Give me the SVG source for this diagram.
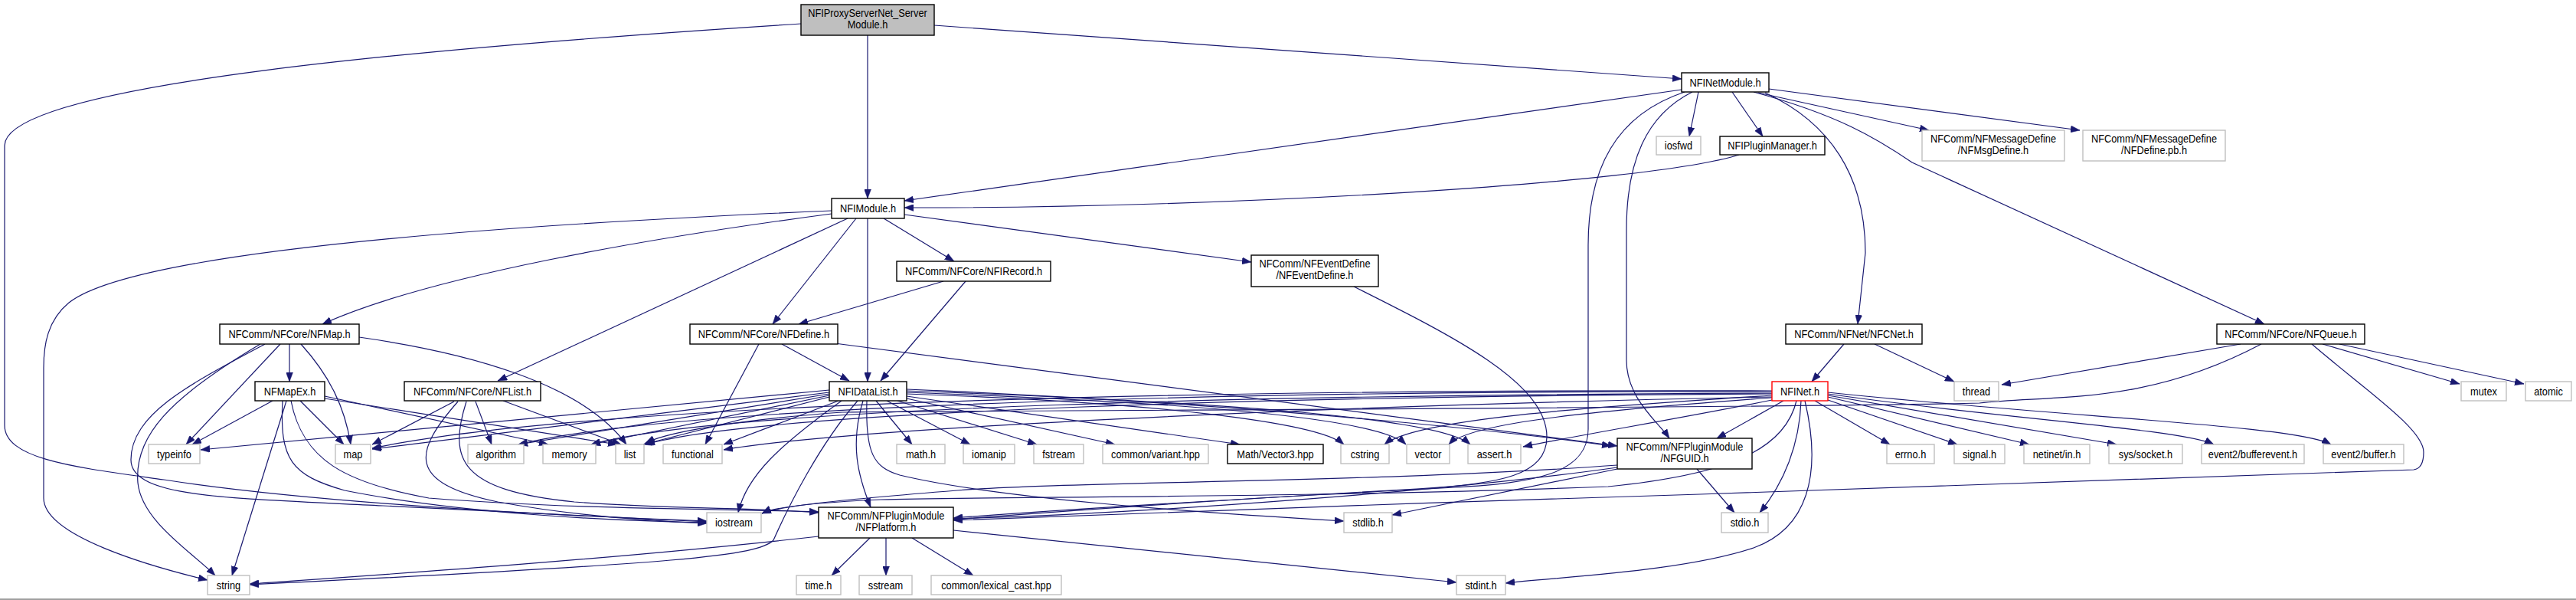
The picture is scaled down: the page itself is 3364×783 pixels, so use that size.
<svg xmlns="http://www.w3.org/2000/svg" width="3364" height="783" viewBox="0 0 3364 783">
<style>
text{font-family:"Liberation Sans",Arial,sans-serif;font-size:15px;text-anchor:middle;fill:#000}
.n rect{fill:#fff;stroke:#000;stroke-width:1.4}
.g rect{fill:#fff;stroke:#bfbfbf;stroke-width:1.4}
.r rect{fill:#bfbfbf;stroke:#000;stroke-width:1.4}
.x rect{fill:#fff;stroke:#ff0000;stroke-width:1.4}
#edges path{fill:none;stroke:#191970;stroke-width:1.2;marker-end:url(#a)}
</style>
<defs>
<marker id="a" markerUnits="userSpaceOnUse" markerWidth="12" markerHeight="9" refX="12" refY="4.5" orient="auto" viewBox="0 0 12 9"><path d="M0,0 L12,4.5 L0,9 z" fill="#191970" stroke="#191970" stroke-width="0.5"/></marker>
</defs>
<rect x="0" y="0" width="3364" height="783" fill="#fff"/>
<rect x="0" y="781" width="3364" height="2" fill="#a0a0a0"/>
<g id="edges">
<path d="M1133,46 L1133,259"/>
<path d="M1220,33 L2196,103"/>
<path d="M1046,31 C560,62 6,110 6,190 L6,555 C6,600 100,610 214,626 C400,655 700,672 923,680"/>
<path d="M2196,117 L1181,262"/>
<path d="M2271,202 C2150,240 1600,272 1181,271"/>
<path d="M2218,120 L2206,178"/>
<path d="M2262,120 L2302,178"/>
<path d="M2296,121 L2519,170"/>
<path d="M2310,116 L2716,170"/>
<path d="M2290,120 C2400,150 2450,180 2497,212 L2957,423"/>
<path d="M2305,121 C2390,160 2436,230 2436,330 L2426,423"/>
<path d="M2210,120 C2150,150 2124,210 2124,300 L2124,470 C2124,520 2165,550 2180,572"/>
<path d="M2200,120 C2110,150 2074,220 2074,320 L2074,560 C2074,620 2000,630 1900,636 C1600,652 1400,664 1245,676"/>
<path d="M1768,374 C1900,440 2020,500 2020,570 C2020,620 1960,632 1850,638 C1600,652 1400,666 1245,678"/>
<path d="M1086,275 C500,300 160,340 90,395 C62,418 57,450 57,480 L57,650 C57,700 200,740 271,757"/>
<path d="M1086,279 C850,310 560,360 421,423"/>
<path d="M1107,285 L650,497"/>
<path d="M1118,285 L1009,423"/>
<path d="M1133,285 L1133,498"/>
<path d="M1154,285 L1246,341"/>
<path d="M1181,280 L1634,342"/>
<path d="M1232,367 L1043,423"/>
<path d="M1261,367 L1150,497"/>
<path d="M991,449 L921,580"/>
<path d="M1021,449 L1109,497"/>
<path d="M1090,448 L2112,582"/>
<path d="M378,449 L378,498"/>
<path d="M366,449 L243,580"/>
<path d="M393,449 C430,490 450,530 458,580"/>
<path d="M469,440 C610,460 760,500 818,580"/>
<path d="M346,449 C250,500 171,540 171,600 C171,650 300,650 500,660 C700,670 850,678 923,681"/>
<path d="M340,449 C220,520 175,570 180,630 C185,680 250,720 281,751"/>
<path d="M356,523 L251,580"/>
<path d="M392,523 L449,580"/>
<path d="M374,523 L303,751"/>
<path d="M369,523 C365,600 380,620 450,640 C600,670 800,680 923,682"/>
<path d="M380,523 C395,600 450,630 560,650 C750,665 950,664 1069,668"/>
<path d="M424,517 L716,580"/>
<path d="M424,520 L806,580"/>
<path d="M593,524 L486,580"/>
<path d="M621,524 L642,580"/>
<path d="M657,523 L811,580"/>
<path d="M598,524 C540,590 530,630 650,655 C760,675 860,680 923,683"/>
<path d="M609,524 C585,600 600,640 750,655 C880,665 980,662 1069,669"/>
<path d="M1083,509 L262,587"/>
<path d="M1083,512 L486,586"/>
<path d="M1083,514 L677,580"/>
<path d="M1083,516 L772,580"/>
<path d="M1083,518 L840,580"/>
<path d="M1095,523 L945,580"/>
<path d="M1099,523 C1020,580 975,620 964,669"/>
<path d="M1120,523 C1070,580 1030,660 1010,705 C990,725 900,735 326,763"/>
<path d="M1127,523 C1110,580 1120,620 1137,662"/>
<path d="M1132,523 C1130,590 1140,610 1175,620 C1300,650 1550,668 1755,680"/>
<path d="M1144,523 L1191,580"/>
<path d="M1158,523 L1267,580"/>
<path d="M1172,523 L1354,580"/>
<path d="M1184,520 L1456,580"/>
<path d="M1184,517 L1619,580"/>
<path d="M1184,514 C1500,525 1720,550 1755,580"/>
<path d="M1184,512 C1550,525 1800,545 1836,580"/>
<path d="M1184,510 C1600,525 1880,545 1920,580"/>
<path d="M1184,508 C1600,525 1950,560 2104,582"/>
<path d="M2314,510 C1700,508 800,520 486,585"/>
<path d="M2314,511 C1700,510 900,525 677,580"/>
<path d="M2314,513 C1700,515 950,530 772,580"/>
<path d="M2314,514 C1700,517 1000,535 843,580"/>
<path d="M2314,518 C1700,530 1100,560 945,587"/>
<path d="M2314,516 C2100,530 1850,545 1808,580"/>
<path d="M2314,519 C2100,535 1920,550 1892,580"/>
<path d="M2314,522 C2200,545 2050,570 1989,583"/>
<path d="M2329,523 L2242,572"/>
<path d="M2352,523 C2350,580 2330,630 2298,669"/>
<path d="M2357,523 C2380,620 2360,690 2290,715 C2200,745 2050,752 1966,761"/>
<path d="M2346,523 C2330,590 2250,620 2100,635 C1700,650 1300,648 1150,652 C1060,656 1010,662 995,670"/>
<path d="M2370,523 L2468,580"/>
<path d="M2387,522 L2556,580"/>
<path d="M2387,518 L2650,580"/>
<path d="M2387,516 L2764,580"/>
<path d="M2387,514 C2600,545 2850,560 2891,580"/>
<path d="M2387,512 C2700,545 3000,555 3044,580"/>
<path d="M2408,449 L2366,498"/>
<path d="M2448,449 L2552,498"/>
<path d="M2926,449 L2614,502"/>
<path d="M2953,449 C2800,530 2680,515 2585,526 C2300,533 1200,536 1100,538 C1000,545 880,560 843,578"/>
<path d="M3033,449 L3212,501"/>
<path d="M3055,449 L3296,501"/>
<path d="M3019,449 C3090,510 3165,560 3165,590 C3165,605 3160,612 3152,613 L2220,645 C1900,655 1500,668 1245,679"/>
<path d="M2216,612 L2265,669"/>
<path d="M2112,612 L1818,672"/>
<path d="M2112,610 C1900,640 1500,670 1245,677"/>
<path d="M2112,607 C1800,630 1400,628 1250,640 C1100,652 1020,660 995,670"/>
<path d="M1069,700 C800,730 500,750 326,762"/>
<path d="M1136,702 L1086,751"/>
<path d="M1157,702 L1157,751"/>
<path d="M1191,702 L1271,751"/>
<path d="M1245,692 L1902,760"/>
</g>
<g id="root" class="r"><rect x="1046" y="6" width="174" height="40"/><text transform="translate(1133,22) scale(0.853,1)">NFIProxyServerNet_Server</text><text transform="translate(1133,37) scale(0.853,1)">Module.h</text></g>
<g id="netmodule" class="n"><rect x="2196" y="95" width="114" height="25"/><text transform="translate(2253,113) scale(0.853,1)">NFINetModule.h</text></g>
<g id="imodule" class="n"><rect x="1086" y="259" width="95" height="26"/><text transform="translate(1133.5,277) scale(0.853,1)">NFIModule.h</text></g>
<g id="iosfwd" class="g"><rect x="2163" y="178" width="58" height="24"/><text transform="translate(2192,195) scale(0.853,1)">iosfwd</text></g>
<g id="pluginmgr" class="n"><rect x="2246" y="178" width="137" height="24"/><text transform="translate(2314.5,195) scale(0.853,1)">NFIPluginManager.h</text></g>
<g id="msgdefine" class="g"><rect x="2510" y="170" width="186" height="40"/><text transform="translate(2603,186) scale(0.853,1)">NFComm/NFMessageDefine</text><text transform="translate(2603,201) scale(0.853,1)">/NFMsgDefine.h</text></g>
<g id="definepb" class="g"><rect x="2720" y="170" width="186" height="40"/><text transform="translate(2813,186) scale(0.853,1)">NFComm/NFMessageDefine</text><text transform="translate(2813,201) scale(0.853,1)">/NFDefine.pb.h</text></g>
<g id="irecord" class="n"><rect x="1171" y="341" width="201" height="26"/><text transform="translate(1271.5,359) scale(0.853,1)">NFComm/NFCore/NFIRecord.h</text></g>
<g id="eventdefine" class="n"><rect x="1634" y="333" width="166" height="41"/><text transform="translate(1717,349) scale(0.853,1)">NFComm/NFEventDefine</text><text transform="translate(1717,364) scale(0.853,1)">/NFEventDefine.h</text></g>
<g id="nfmap" class="n"><rect x="287" y="423" width="182" height="26"/><text transform="translate(378,441) scale(0.853,1)">NFComm/NFCore/NFMap.h</text></g>
<g id="nfdefine" class="n"><rect x="901" y="423" width="193" height="26"/><text transform="translate(997.5,441) scale(0.853,1)">NFComm/NFCore/NFDefine.h</text></g>
<g id="cnet" class="n"><rect x="2332" y="423" width="178" height="26"/><text transform="translate(2421,441) scale(0.853,1)">NFComm/NFNet/NFCNet.h</text></g>
<g id="queue" class="n"><rect x="2895" y="423" width="193" height="26"/><text transform="translate(2991.5,441) scale(0.853,1)">NFComm/NFCore/NFQueue.h</text></g>
<g id="mapex" class="n"><rect x="333" y="498" width="91" height="25"/><text transform="translate(378.5,516) scale(0.853,1)">NFMapEx.h</text></g>
<g id="nflist" class="n"><rect x="528" y="498" width="178" height="25"/><text transform="translate(617,516) scale(0.853,1)">NFComm/NFCore/NFList.h</text></g>
<g id="datalist" class="n"><rect x="1083" y="498" width="101" height="25"/><text transform="translate(1133.5,516) scale(0.853,1)">NFIDataList.h</text></g>
<g id="inet" class="x"><rect x="2314" y="498" width="73" height="25"/><text transform="translate(2350.5,516) scale(0.853,1)">NFINet.h</text></g>
<g id="thread" class="g"><rect x="2552" y="498" width="58" height="25"/><text transform="translate(2581,516) scale(0.853,1)">thread</text></g>
<g id="mutex" class="g"><rect x="3214" y="498" width="59" height="25"/><text transform="translate(3243.5,516) scale(0.853,1)">mutex</text></g>
<g id="atomic" class="g"><rect x="3298" y="498" width="60" height="25"/><text transform="translate(3328,516) scale(0.853,1)">atomic</text></g>
<g id="typeinfo" class="g"><rect x="194" y="580" width="67" height="25"/><text transform="translate(227.5,598) scale(0.853,1)">typeinfo</text></g>
<g id="map" class="g"><rect x="438" y="580" width="46" height="25"/><text transform="translate(461,598) scale(0.853,1)">map</text></g>
<g id="algorithm" class="g"><rect x="611" y="580" width="73" height="25"/><text transform="translate(647.5,598) scale(0.853,1)">algorithm</text></g>
<g id="memory" class="g"><rect x="709" y="580" width="69" height="25"/><text transform="translate(743.5,598) scale(0.853,1)">memory</text></g>
<g id="list" class="g"><rect x="804" y="580" width="37" height="25"/><text transform="translate(822.5,598) scale(0.853,1)">list</text></g>
<g id="functional" class="g"><rect x="866" y="580" width="77" height="25"/><text transform="translate(904.5,598) scale(0.853,1)">functional</text></g>
<g id="math" class="g"><rect x="1171" y="580" width="63" height="25"/><text transform="translate(1202.5,598) scale(0.853,1)">math.h</text></g>
<g id="iomanip" class="g"><rect x="1258" y="580" width="67" height="25"/><text transform="translate(1291.5,598) scale(0.853,1)">iomanip</text></g>
<g id="fstream" class="g"><rect x="1350" y="580" width="65" height="25"/><text transform="translate(1382.5,598) scale(0.853,1)">fstream</text></g>
<g id="variant" class="g"><rect x="1440" y="580" width="138" height="25"/><text transform="translate(1509,598) scale(0.853,1)">common/variant.hpp</text></g>
<g id="vector3" class="n"><rect x="1603" y="580" width="125" height="25"/><text transform="translate(1665.5,598) scale(0.853,1)">Math/Vector3.hpp</text></g>
<g id="cstring" class="g"><rect x="1751" y="580" width="63" height="25"/><text transform="translate(1782.5,598) scale(0.853,1)">cstring</text></g>
<g id="vector" class="g"><rect x="1837" y="580" width="56" height="25"/><text transform="translate(1865,598) scale(0.853,1)">vector</text></g>
<g id="assert" class="g"><rect x="1917" y="580" width="69" height="25"/><text transform="translate(1951.5,598) scale(0.853,1)">assert.h</text></g>
<g id="errno" class="g"><rect x="2464" y="580" width="62" height="25"/><text transform="translate(2495,598) scale(0.853,1)">errno.h</text></g>
<g id="signal" class="g"><rect x="2552" y="580" width="66" height="25"/><text transform="translate(2585,598) scale(0.853,1)">signal.h</text></g>
<g id="netinet" class="g"><rect x="2643" y="580" width="86" height="25"/><text transform="translate(2686,598) scale(0.853,1)">netinet/in.h</text></g>
<g id="socket" class="g"><rect x="2754" y="580" width="96" height="25"/><text transform="translate(2802,598) scale(0.853,1)">sys/socket.h</text></g>
<g id="bufferevent" class="g"><rect x="2875" y="580" width="134" height="25"/><text transform="translate(2942,598) scale(0.853,1)">event2/bufferevent.h</text></g>
<g id="buffer" class="g"><rect x="3034" y="580" width="105" height="25"/><text transform="translate(3086.5,598) scale(0.853,1)">event2/buffer.h</text></g>
<g id="guid" class="n"><rect x="2112" y="572" width="176" height="40"/><text transform="translate(2200,588) scale(0.853,1)">NFComm/NFPluginModule</text><text transform="translate(2200,603) scale(0.853,1)">/NFGUID.h</text></g>
<g id="iostream" class="g"><rect x="923" y="669" width="71" height="26"/><text transform="translate(958.5,687) scale(0.853,1)">iostream</text></g>
<g id="stdlib" class="g"><rect x="1755" y="669" width="63" height="26"/><text transform="translate(1786.5,687) scale(0.853,1)">stdlib.h</text></g>
<g id="stdio" class="g"><rect x="2248" y="669" width="61" height="26"/><text transform="translate(2278.5,687) scale(0.853,1)">stdio.h</text></g>
<g id="platform" class="n"><rect x="1069" y="662" width="176" height="40"/><text transform="translate(1157,678) scale(0.853,1)">NFComm/NFPluginModule</text><text transform="translate(1157,693) scale(0.853,1)">/NFPlatform.h</text></g>
<g id="string" class="g"><rect x="271" y="751" width="55" height="25"/><text transform="translate(298.5,769) scale(0.853,1)">string</text></g>
<g id="time" class="g"><rect x="1040" y="751" width="58" height="25"/><text transform="translate(1069,769) scale(0.853,1)">time.h</text></g>
<g id="sstream" class="g"><rect x="1122" y="751" width="69" height="25"/><text transform="translate(1156.5,769) scale(0.853,1)">sstream</text></g>
<g id="lexical" class="g"><rect x="1216" y="751" width="170" height="25"/><text transform="translate(1301,769) scale(0.853,1)">common/lexical_cast.hpp</text></g>
<g id="stdint" class="g"><rect x="1902" y="751" width="64" height="25"/><text transform="translate(1934,769) scale(0.853,1)">stdint.h</text></g>
</svg>
